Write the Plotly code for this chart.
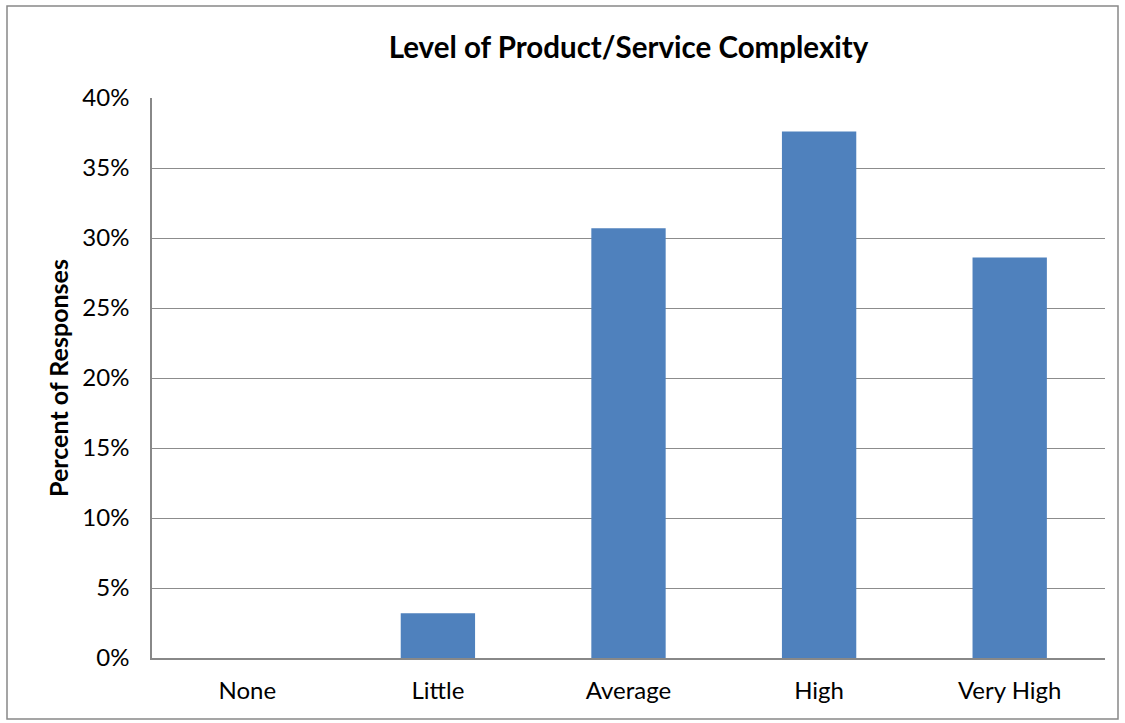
import plotly.graph_objects as go

categories = ["None", "Little", "Average", "High", "Very High"]
values = [0.0, 3.2, 30.7, 37.6, 28.6]
tick_vals = [0, 5, 10, 15, 20, 25, 30, 35, 40]
tick_text = [f"{v}%" for v in tick_vals]

W, H = 1125, 723
L, R, T, B = 152, 20, 98, 65
pw, ph = W - L - R, H - T - B

def px_x(x):
    return (x - L) / pw

def px_y(y):
    return (H - B - y) / ph

FONT = "Lato, Open Sans, sans-serif"

fig = go.Figure(go.Bar(x=categories, y=values, marker=dict(color="#4F81BD", line=dict(width=0))))

fig.update_layout(
    width=W, height=H,
    margin=dict(l=L, r=R, t=T, b=B),
    paper_bgcolor="white", plot_bgcolor="white",
    bargap=0.61,
    showlegend=False,
    font=dict(family=FONT, color="black", size=24),
    title=dict(text="<b>Level of Product/Service Complexity</b>", x=0.5, xref="paper",
               y=1 - 48 / H, yanchor="middle", font=dict(size=29.5, family=FONT)),
    shapes=[dict(type="rect", xref="paper", yref="paper",
                 x0=px_x(7), x1=px_x(1118), y0=px_y(719), y1=px_y(6),
                 line=dict(color="#888888", width=1.5), fillcolor="rgba(0,0,0,0)", layer="below")],
)
fig.update_xaxes(showline=True, linecolor="#888888", linewidth=1.5, ticks="", showgrid=False,
                 tickfont=dict(size=24), ticklabelstandoff=10)
fig.update_yaxes(range=[0, 40], tickvals=tick_vals, ticktext=tick_text, showgrid=True,
                 gridcolor="#8C8C8C", gridwidth=1.2, showline=True, linecolor="#888888", linewidth=1.5,
                 zeroline=False, ticks="", tickfont=dict(size=24), ticklabelstandoff=16,
                 title=dict(text="<b>Percent of Responses</b>", font=dict(size=25), standoff=7))

fig.write_html("out.html")
